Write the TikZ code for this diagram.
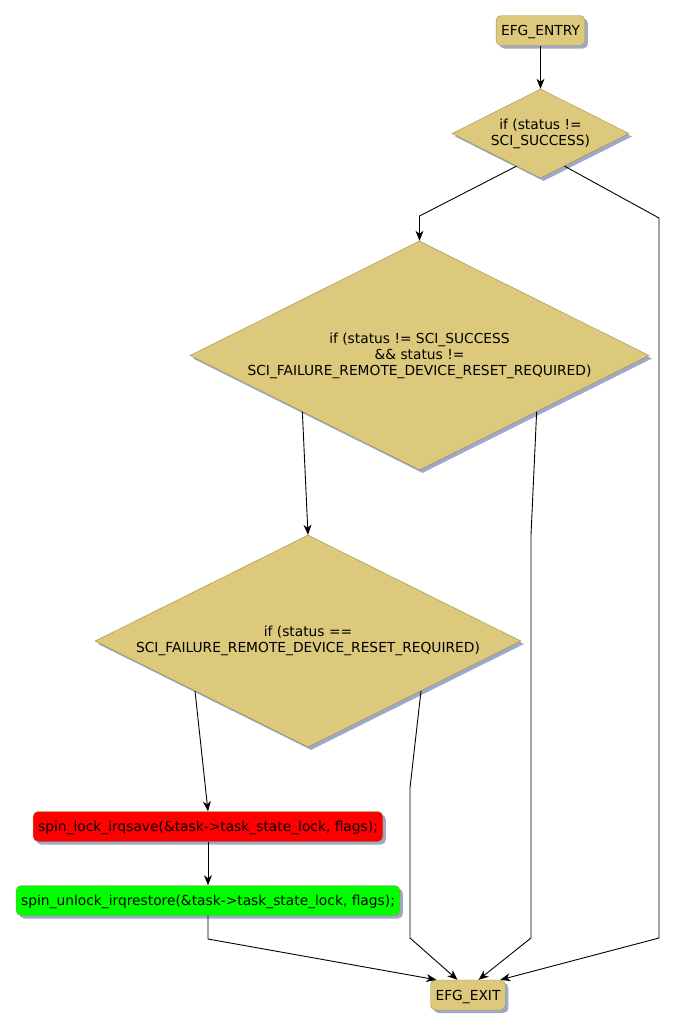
\documentclass[tikz,border=0pt]{standalone}
\usepackage{fontspec}
\setmainfont{DejaVu Sans}
\usetikzlibrary{arrows.meta, positioning, shapes.geometric, calc, shadows}
\definecolor{khaki}{HTML}{DDC97C}
\definecolor{olivebd}{HTML}{A08E50}
\definecolor{shade}{HTML}{9DA9C6}
\newcommand{\flowfont}{\fontsize{13.8}{16}\selectfont}
\tikzset{
    shade box/.style={drop shadow={shadow xshift=3pt, shadow yshift=-3pt, fill=shade, opacity=1}},
    stepbox/.style={draw=olivebd, fill=#1, rounded corners=5pt, minimum height=30pt,
        inner xsep=5pt, inner ysep=0pt, text height=10pt, text depth=0pt,
        font=\flowfont, shade box},
    stepbox/.default=khaki
}

\begin{document}
\begin{tikzpicture}[
    x=1pt, y=-1pt,
    decision/.style={diamond, draw=olivebd, fill=khaki, aspect=2, inner sep=0pt,
        align=center, font=\flowfont, shade box},
    flow/.style={-{Stealth[length=10pt, width=8pt, inset=3pt]}, line width=0.9pt}
]
\useasboundingbox (0,0) rectangle (675,1028);

% Entry and decisions
\node[stepbox] (entry) at (540.5,30.5) {EFG\_ENTRY};
\node[decision, minimum width=177pt, minimum height=89pt] (d1) at (540.5,133.5)
    {if (status !=\\SCI\_SUCCESS)};
\node[decision, minimum width=459pt, minimum height=229pt] (d2) at (419.5,355.5)
    {if (status != SCI\_SUCCESS\\\&\& status !=\\SCI\_FAILURE\_REMOTE\_DEVICE\_RESET\_REQUIRED)};
\node[decision, minimum width=426pt, minimum height=212pt] (d3) at (308,641)
    {if (status ==\\SCI\_FAILURE\_REMOTE\_DEVICE\_RESET\_REQUIRED)};

% Statements
\node[stepbox=red] (lock) at (208,826.5) {spin\_lock\_irqsave(\&task->task\_state\_lock, flags);};
\node[stepbox=green] (unlock) at (208,900.5) {spin\_unlock\_irqrestore(\&task->task\_state\_lock, flags);};
\node[stepbox] (exit) at (468,995) {EFG\_EXIT};

% bend points
\coordinate (b1) at (419.5,216);
\coordinate (b2a) at (659,218);
\coordinate (b2b) at (659,938);
\coordinate (b3a) at (531,535);
\coordinate (b3b) at (531,938);
\coordinate (b4a) at (410,788);
\coordinate (b4b) at (410,938);
\coordinate (b5) at (208,939);

% Connectors
\draw[flow] (entry) -- (d1.north);
\draw[flow] ($(d1.west)!0.73!(d1.south)$) -- (b1) -- (d2.north);
\draw[flow] ($(d1.south)!0.27!(d1.east)$) -- (b2a) -- (b2b)
    -- ($(exit.north west)!0.93!(exit.north east)$);
\draw[flow] ($(d2.west)!0.49!(d2.south)$) -- (d3.north);
\draw[flow] ($(d2.south)!0.51!(d2.east)$) -- (b3a) -- (b3b)
    -- ($(exit.north west)!0.64!(exit.north east)$);
\draw[flow] ($(d3.west)!0.47!(d3.south)$) -- (lock.north);
\draw[flow] ($(d3.south)!0.53!(d3.east)$) -- (b4a) -- (b4b)
    -- ($(exit.north west)!0.36!(exit.north east)$);
\draw[flow] (lock) -- (unlock);
\draw[flow] (unlock.south) -- (b5)
    -- ($(exit.north west)!0.08!(exit.north east)$);

\end{tikzpicture}
\end{document}
